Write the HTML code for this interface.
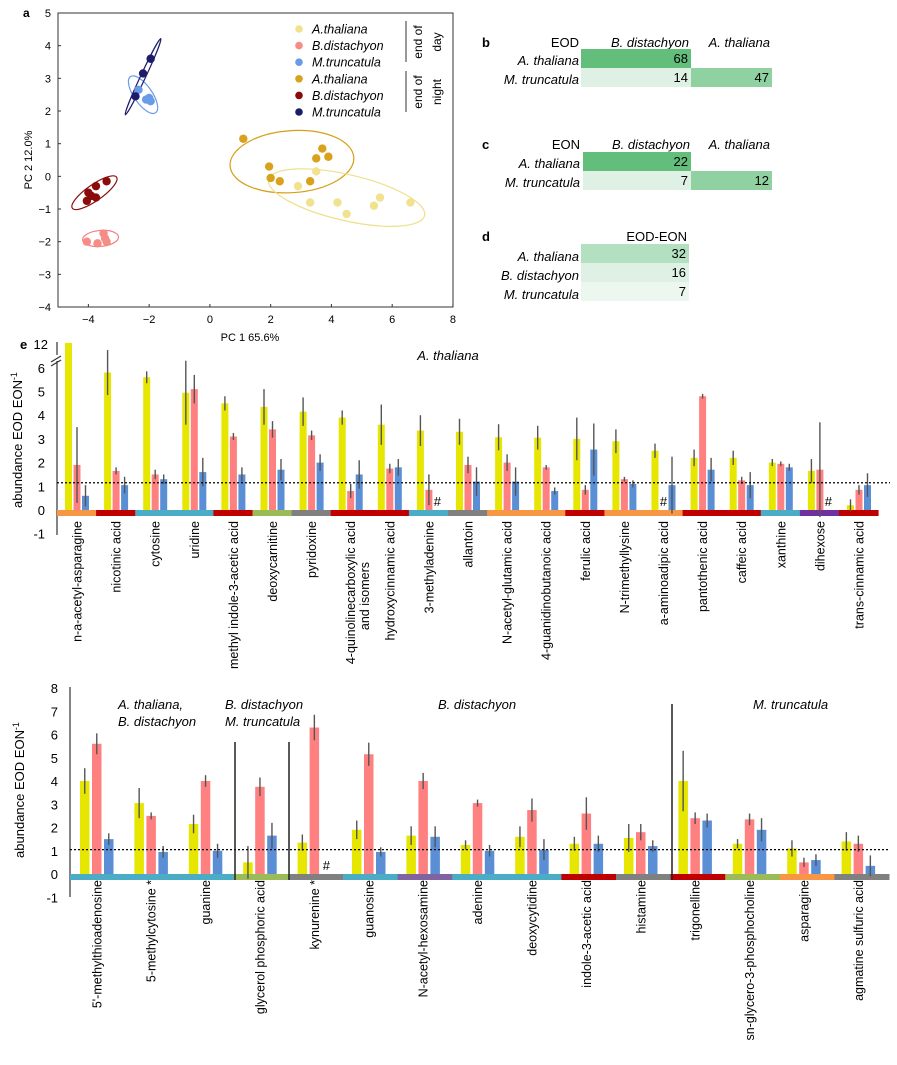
<!DOCTYPE html>
<html><head><meta charset="utf-8"><style>
body{margin:0;background:#fff}
svg{font-family:"Liberation Sans",Arial,sans-serif;display:block}
</style></head><body>
<svg id="fig" width="897" height="1065" viewBox="0 0 897 1065" xmlns="http://www.w3.org/2000/svg">
<g id="pca"></g>
<g id="tables"></g>
<g id="topChart"></g>
<g id="botChart"></g>
</svg>
<script>
// ---------- PCA data ----------
const eodAth=[[3.5,0.15],[2.9,-0.3],[3.3,-0.8],[4.2,-0.8],[4.5,-1.15],[5.4,-0.9],[5.6,-0.65],[6.6,-0.8]];
const eonAth=[[1.1,1.15],[1.95,0.3],[2.0,-0.05],[2.3,-0.15],[3.3,-0.15],[3.5,0.55],[3.7,0.85],[3.9,0.6]];
const eodBdi=[[-4.05,-2.0],[-3.7,-2.05],[-3.5,-1.75],[-3.4,-2.0],[-3.45,-1.9]];
const eonBdi=[[-4.0,-0.5],[-4.05,-0.75],[-3.75,-0.3],[-3.75,-0.65],[-3.4,-0.15],[-3.9,-0.6]];
const eodMtr=[[-2.35,2.65],[-2.0,2.4],[-1.95,2.3],[-2.1,2.35]];
const eonMtr=[[-2.45,2.45],[-2.2,3.15],[-1.95,3.6]];
const pcaXTicks=[-4,-2,0,2,4,6,8];
const pcaYTicks=[5,4,3,2,1,0,-1,-2,-3,-4];

// ---------- Top chart data (A. thaliana) ----------
const topCats=["n-a-acetyl-asparagine","nicotinic acid","cytosine","uridine","methyl indole-3-acetic acid","deoxycarnitine","pyridoxine","4-quinolinecarboxylic acid|and isomers","hydroxycinnamic acid","3-methyladenine","allantoin","N-acetyl-glutamic acid","4-guanidinobutanoic acid","ferulic acid","N-trimethyllysine","a-aminoadipic acid","pantothenic acid","caffeic acid","xanthine","dihexose","trans-cinnamic acid"];
const topAth=[12,5.8,5.6,4.95,4.5,4.35,4.15,3.9,3.6,3.35,3.3,3.07,3.05,3.0,2.9,2.5,2.2,2.2,2.0,1.65,0.2];
const topBdi=[1.9,1.65,1.5,5.1,3.1,3.4,3.15,0.8,1.75,0.85,1.9,2.0,1.8,0.85,1.3,null,4.8,1.25,1.95,1.7,0.85];
const topMtr=[0.6,1.05,1.3,1.6,1.5,1.7,2.0,1.5,1.8,null,1.2,1.2,0.8,2.55,1.1,1.05,1.7,1.05,1.8,null,1.05];
const topErrAth=[0,0.95,0.25,1.35,0.3,0.75,0.6,0.3,0.85,0.65,0.55,0.55,0.5,0.9,0.5,0.3,0.35,0.3,0.15,0.5,0.25];
const topErrBdi=[1.6,0.15,0.2,0.6,0.15,0.35,0.2,0.3,0.2,0.65,0.35,0.35,0.1,0.2,0.1,0,0.1,0.15,0.1,2.0,0.2];
const topErrMtr=[0.45,0.35,0.2,0.6,0.3,0.45,0.35,0.6,0.35,0,0.6,0.6,0.15,1.1,0.15,1.2,0.5,0.55,0.15,0,0.5];
const topClass=["#f79646","#c00000","#4bacc6","#4bacc6","#c00000","#9bbb59","#808080","#c00000","#c00000","#4bacc6","#808080","#f79646","#f79646","#c00000","#f79646","#f79646","#c00000","#c00000","#4bacc6","#7030a0","#c00000"];
const topTicks=[6,5,4,3,2,1,0,-1];

// ---------- Bottom chart data ----------
const botCats=["5'-methylthioadenosine","5-methylcytosine *","guanine","glycerol phosphoric acid","kynurenine *","guanosine","N-acetyl-hexosamine","adenine","deoxycytidine","indole-3-acetic acid","histamine","trigonelline","sn-glycero-3-phosphocholine","asparagine","agmatine sulfuric acid"];
const botAth=[4.0,3.05,2.15,0.5,1.35,1.9,1.65,1.25,1.6,1.3,1.55,4.0,1.3,1.1,1.4];
const botBdi=[5.6,2.5,4.0,3.75,6.3,5.15,4.0,3.05,2.75,2.6,1.8,2.4,2.35,0.5,1.3];
const botMtr=[1.5,0.95,1.0,1.65,null,0.95,1.6,1.0,1.05,1.3,1.2,2.3,1.9,0.6,0.35];
const botErrAth=[0.55,0.65,0.4,0.7,0.35,0.4,0.4,0.2,0.45,0.3,0.6,1.3,0.2,0.35,0.4];
const botErrBdi=[0.45,0.15,0.25,0.4,0.55,0.5,0.35,0.15,0.5,0.7,0.35,0.25,0.25,0.2,0.35];
const botErrMtr=[0.25,0.25,0.3,0.55,0,0.2,0.45,0.25,0.45,0.35,0.25,0.3,0.5,0.25,0.45];
const botClass=["#4bacc6","#4bacc6","#4bacc6","#9bbb59","#808080","#4bacc6","#8064a2","#4bacc6","#4bacc6","#c00000","#808080","#c00000","#9bbb59","#f79646","#808080"];
const botTicks=[8,7,6,5,4,3,2,1,0,-1];

const NS="http://www.w3.org/2000/svg";
function el(parent,tag,attrs,txt){const e=document.createElementNS(NS,tag);for(const k in attrs)e.setAttribute(k,attrs[k]);if(txt!==undefined)e.textContent=txt;parent.appendChild(e);return e;}

// ---------- PCA ----------
(function(){
  const g=document.getElementById('pca');
  const X=v=>58+(v+5)*30.38, Y=v=>13+(5-v)*32.67;
  const f=el(g,'rect',{x:58,y:13,width:395,height:294,fill:'none',stroke:'#333','stroke-width':1});
  
  const t=el(g,'text',{x:23,y:17,'font-size':12,'font-weight':'bold'},'a');
  
  pcaXTicks.forEach(v=>{const e=el(g,'text',{x:X(v),y:323,'font-size':11,'text-anchor':'middle'},v<0?'\u2212'+(-v):v);el(g,'line',{x1:X(v),x2:X(v),y1:307,y2:304,stroke:'#333'});});
  pcaYTicks.forEach(v=>{const e=el(g,'text',{x:51,y:Y(v)+4,'font-size':11,'text-anchor':'end'},v<0?'\u2212'+(-v):v);el(g,'line',{x1:58,x2:61,y1:Y(v),y2:Y(v),stroke:'#333'});});
  const xt=el(g,'text',{x:250,y:341,'font-size':11,'text-anchor':'middle'},'PC 1 65.6%');
  const yt=el(g,'text',{x:0,y:0,'font-size':11,'text-anchor':'middle',transform:'translate(32,160) rotate(-90)'},'PC 2 12.0%');
  const ells=[[2.7,0.45,62,31,-4,'#d4a017'],[4.5,-0.65,80,23,13,'#eee08a'],[-2.2,2.5,9,22,-35,'#6a9be8'],[-2.2,3.05,2.5,42,25,'#1c1c6b'],[-3.8,-0.5,27,8,-35,'#8b1010'],[-3.6,-1.9,18,8,-5,'#f08080']];
  ells.forEach(e=>{const c=el(g,'ellipse',{cx:X(e[0]),cy:Y(e[1]),rx:e[2],ry:e[3],fill:'none',stroke:e[5],'stroke-width':1.2,transform:`rotate(${e[4]} ${X(e[0])} ${Y(e[1])})`});});
  const sets=[[eodAth,'#f0e28e'],[eonAth,'#d9a21c'],[eodBdi,'#f78b85'],[eonBdi,'#8b0a0a'],[eodMtr,'#6a9be8'],[eonMtr,'#1c1c6b']];
  sets.forEach(s=>s[0].forEach(p=>{const c=el(g,'circle',{cx:X(p[0]),cy:Y(p[1]),r:4.2,fill:s[1]});}));
  const leg=[['A.thaliana','#f0e28e'],['B.distachyon','#f78b85'],['M.truncatula','#6a9be8'],['A.thaliana','#d9a21c'],['B.distachyon','#8b0a0a'],['M.truncatula','#1c1c6b']];
  leg.forEach((l,i)=>{const y=29+i*16.6;el(g,'circle',{cx:299,cy:y,r:3.8,fill:l[1]});const e=el(g,'text',{x:312,y:y+4.5,'font-size':12.5,'font-style':'italic'},l[0]);});
  el(g,'line',{x1:406,x2:406,y1:21,y2:62,stroke:'#333'});el(g,'line',{x1:406,x2:406,y1:71,y2:112,stroke:'#333'});
  [['end of',418,42],['day',437,42],['end of',418,92],['night',437,92]].forEach(a=>{el(g,'text',{x:0,y:0,'font-size':12,'text-anchor':'middle',transform:`translate(${a[1]+4},${a[2]}) rotate(-90)`},a[0]);});
})();

// ---------- Tables ----------
(function(){
  const g=document.getElementById('tables');
  function T(x,y,s,o){const e=el(g,'text',Object.assign({x:x,y:y,'font-size':13},o||{}),s);return e;}
  function cell(x,y,w,h,c,v){const r=el(g,'rect',{x:x,y:y,width:w,height:h,fill:c});T(x+w-3,y+14,v,{'text-anchor':'end'});}
  T(482,47,'b',{'font-weight':'bold'});T(579,47,'EOD',{'text-anchor':'end'});T(689,47,'B. distachyon',{'text-anchor':'end','font-style':'italic'});T(770,47,'A. thaliana',{'text-anchor':'end','font-style':'italic'});
  T(579,65,'A. thaliana',{'text-anchor':'end','font-style':'italic'});T(579,84,'M. truncatula',{'text-anchor':'end','font-style':'italic'});
  cell(581,49,110,19,'#63be7b','68');cell(581,68,110,19,'#dff1e5','14');cell(691,68,81,19,'#8fd1a1','47');
  T(482,149,'c',{'font-weight':'bold'});T(580,149,'EON',{'text-anchor':'end'});T(690,149,'B. distachyon',{'text-anchor':'end','font-style':'italic'});T(770,149,'A. thaliana',{'text-anchor':'end','font-style':'italic'});
  T(580,168,'A. thaliana',{'text-anchor':'end','font-style':'italic'});T(580,187,'M. truncatula',{'text-anchor':'end','font-style':'italic'});
  cell(583,152,108,19,'#63be7b','22');cell(583,171,108,19,'#dff1e5','7');cell(691,171,81,19,'#8fd1a1','12');
  T(482,241,'d',{'font-weight':'bold'});T(687,241,'EOD-EON',{'text-anchor':'end'});
  T(579,261,'A. thaliana',{'text-anchor':'end','font-style':'italic'});T(579,280,'B. distachyon',{'text-anchor':'end','font-style':'italic'});T(579,299,'M. truncatula',{'text-anchor':'end','font-style':'italic'});
  cell(581,244,108,19,'#b2e0c0','32');cell(581,263,108,19,'#dff1e5','16');cell(581,282,108,19,'#ecf7ef','7');
})();

// ---------- generic bar chart ----------
function barChart(g,o){
  const Y=v=>o.y0-v*o.unit;
  el(g,'line',{x1:o.axisX,x2:o.axisX,y1:o.axTop,y2:o.axBot,stroke:'#333','stroke-width':1.2});
  o.ticks.forEach(v=>{const e=el(g,'text',{x:o.axisX-12,y:Y(v)+5,'font-size':13,'text-anchor':'end'},v);});
  const n=o.cats.length;
  for(let i=0;i<n;i++){
    const s=el(g,'rect',{x:o.bandX+i*o.bandW,y:o.y0,width:o.bandW+0.5,height:6,fill:o.cls[i]});
    
  }
  const series=[[o.a,o.ea,'#e6e600'],[o.b,o.eb,'#ff8080'],[o.c,o.ec,'#5a8fd6']];
  for(let i=0;i<n;i++){
    const gx=o.x0+i*o.step;
    series.forEach((s,j)=>{
      const x=gx+j*o.off, v=s[0][i];
      if(v===null){const h=el(g,'text',{x:x+o.bw/2,y:o.y0-4,'font-size':13,'text-anchor':'middle'},'#');return;}
      let top=Y(v); if(o.capTop!==undefined&&top<o.capTop) top=o.capTop;
      const r=el(g,'rect',{x:x,y:top,width:o.bw,height:o.y0-top,fill:s[2]});
      
      const e=s[1][i];
      if(e>0){const l=el(g,'line',{x1:x+o.bw/2,x2:x+o.bw/2,y1:Y(v-e),y2:Y(v+e),stroke:'#555','stroke-width':1.4});}
    });
    const cx=gx+o.off+o.bw/2+4.5;
    const parts=o.cats[i].split('|');
    const t=el(g,'text',{x:0,y:0,'font-size':12.5,'text-anchor':'end',transform:`translate(${cx},${o.labY}) rotate(-90)`},parts[0]);
    
    if(parts[1]){el(g,'text',{x:0,y:0,'font-size':12.5,'text-anchor':'end',transform:`translate(${cx+14},${o.labY+41}) rotate(-90)`},parts[1]);}
  }
  el(g,'line',{x1:o.axisX,x2:o.dotEnd,y1:Y(o.dot),y2:Y(o.dot),stroke:'#000','stroke-width':1.2,'stroke-dasharray':'2,2'});
  const yl=el(g,'text',{x:0,y:0,'font-size':13,'text-anchor':'middle',transform:`translate(${o.ylx},${o.yly}) rotate(-90)`});
  
  yl.appendChild(document.createTextNode('abundance EOD EON'));
  el(yl,'tspan',{'font-size':9,dy:-5},'-1');
}
(function(){
  const g=document.getElementById('topChart');
  barChart(g,{cats:topCats,a:topAth,b:topBdi,c:topMtr,ea:topErrAth,eb:topErrBdi,ec:topErrMtr,cls:topClass,ticks:topTicks,
    y0:510,unit:23.7,axisX:57,axTop:342,axBot:535,bandX:57,bandW:39.1,x0:65,step:39.1,off:8.5,bw:7,capTop:343,labY:521,dot:1.15,dotEnd:890,ylx:22,yly:440});
  const el_e=el(g,'text',{x:20,y:349,'font-size':13,'font-weight':'bold'},'e');
  
  el(g,'text',{x:48,y:349,'font-size':13,'text-anchor':'end'},'12');
  el(g,'rect',{x:50,y:355,width:14,height:6,fill:'#fff'});
  el(g,'line',{x1:51,x2:61,y1:362,y2:356,stroke:'#333','stroke-width':1.2});
  el(g,'line',{x1:51,x2:61,y1:366,y2:360,stroke:'#333','stroke-width':1.2});
  const tt=el(g,'text',{x:448,y:360,'font-size':13,'font-style':'italic','text-anchor':'middle'},'A. thaliana');
  
})();
(function(){
  const g=document.getElementById('botChart');
  barChart(g,{cats:botCats,a:botAth,b:botBdi,c:botMtr,ea:botErrAth,eb:botErrBdi,ec:botErrMtr,cls:botClass,ticks:botTicks,
    y0:874,unit:23.25,axisX:70,axTop:687,axBot:897,bandX:70,bandW:54.6,x0:80,step:54.4,off:12,bw:9.5,labY:880,dot:1.05,dotEnd:890,ylx:24,yly:790});
  [[235,742],[289,742],[672,704]].forEach(s=>{const l=el(g,'line',{x1:s[0],x2:s[0],y1:s[1],y2:880,stroke:'#222','stroke-width':1.5});});
  [['A. thaliana,',118,709],['B. distachyon',118,726],['B. distachyon',225,709],['M. truncatula',225,726],['B. distachyon',438,709],['M. truncatula',753,709]].forEach(h=>{const e=el(g,'text',{x:h[1],y:h[2],'font-size':13,'font-style':'italic'},h[0]);});
})();
</script>
</body></html>
